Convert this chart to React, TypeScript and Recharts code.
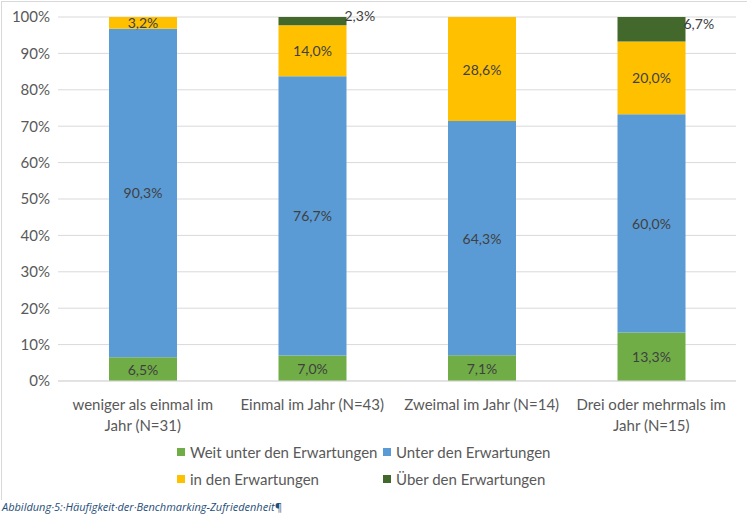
import React from "react";
import { BarChart, Bar, XAxis, YAxis, CartesianGrid, LabelList, Text } from "recharts";

const categories = [
  "weniger als einmal im\nJahr (N=31)",
  "Einmal im Jahr (N=43)",
  "Zweimal im Jahr (N=14)",
  "Drei oder mehrmals im\nJahr (N=15)",
];
const weitUnter = [6.5, 7.0, 7.1, 13.3];
const unter = [90.3, 76.7, 64.3, 60.0];
const inDen = [3.2, 14.0, 28.6, 20.0];
const ueber = [0, 2.3, 0, 6.7];
const yTicks = [0, 10, 20, 30, 40, 50, 60, 70, 80, 90, 100];

const series = [
  { key: "weitUnter", name: "Weit unter den Erwartungen", color: "#70AD47" },
  { key: "unter", name: "Unter den Erwartungen", color: "#5B9BD5" },
  { key: "inDen", name: "in den Erwartungen", color: "#FFC000" },
  { key: "ueber", name: "Über den Erwartungen", color: "#43682B" },
];

const data = categories.map((c, i) => ({
  name: c,
  weitUnter: weitUnter[i],
  unter: unter[i],
  inDen: inDen[i],
  ueber: ueber[i],
}));

const FONT = "Lato, 'Liberation Sans', sans-serif";
const fmt = (v: number) => v.toFixed(1).replace(".", ",") + "%";

const CenterLabel = (props: any) => {
  const { x, y, width, height, value } = props;
  if (!value) return null;
  return (
    <text x={x + width / 2} y={y + height / 2} textAnchor="middle" dominantBaseline="central"
      fill="#404040" fontSize={14} fontFamily={FONT}>
      {fmt(value)}
    </text>
  );
};

const SideLabel = (props: any) => {
  const { x, y, width, height, value } = props;
  if (!value) return null;
  return (
    <text x={x + width - 2} y={y + height / 2 - 6} textAnchor="start" dominantBaseline="central"
      fill="#404040" fontSize={14} fontFamily={FONT}>
      {fmt(value)}
    </text>
  );
};

const XTick = (props: any) => {
  const { x, y, payload } = props;
  const lines = String(payload.value).split("\n");
  return (
    <g>
      {lines.map((l, i) => (
        <Text key={i} x={x} y={y + 16 + i * 21} textAnchor="middle" verticalAnchor="middle"
          fill="#595959" fontSize={15} fontFamily={FONT}>
          {l}
        </Text>
      ))}
    </g>
  );
};

export default function App() {
  return (
    <div style={{ position: "absolute", left: 0, top: 0, width: 747, height: 517, background: "#fff" }}>
      <div style={{ position: "absolute", left: 1, top: 1, width: 760, height: 498, borderTop: "1px solid #D9D9D9", borderLeft: "1px solid #D9D9D9" }} />
      <BarChart width={747} height={517} data={data} margin={{ top: 17, right: 11, left: 8, bottom: 76 }} barSize={68}>
        <CartesianGrid vertical={false} stroke="#D9D9D9" />
        <XAxis dataKey="name" tick={<XTick />} tickLine={false} axisLine={{ stroke: "#D9D9D9" }} height={60} interval={0} />
        <YAxis domain={[0, 100]} ticks={yTicks} tickFormatter={(v) => v + "%"} axisLine={false} tickLine={false}
          width={50} tick={{ fill: "#595959", fontSize: 15, fontFamily: FONT }} />
        {series.map((s) => (
          <Bar key={s.key} dataKey={s.key} name={s.name} stackId="a" fill={s.color} isAnimationActive={false}>
            <LabelList dataKey={s.key} content={s.key === "ueber" ? <SideLabel /> : <CenterLabel />} />
          </Bar>
        ))}
      </BarChart>
      <div style={{ position: "absolute", left: 177, top: 443, display: "grid", gridTemplateColumns: "206px 200px", rowGap: 9, fontFamily: FONT, fontSize: 15, color: "#595959" }}>
        {series.map((s) => (
          <div key={s.key} style={{ display: "flex", alignItems: "center", height: 18 }}>
            <span style={{ width: 8, height: 8, background: s.color, marginRight: 5, display: "inline-block" }} />
            {s.name}
          </div>
        ))}
      </div>
      <div style={{ position: "absolute", left: 2, top: 499, fontFamily: "'Open Sans', sans-serif", fontStyle: "italic", fontSize: 11, color: "#1F4E79" }}>
        Abbildung·5:·Häufigkeit·der·Benchmarking-Zufriedenheit¶
      </div>
    </div>
  );
}
